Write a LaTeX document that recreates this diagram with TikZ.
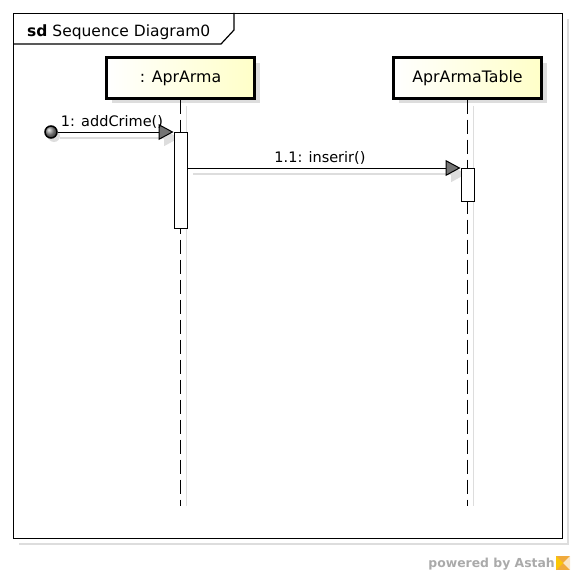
\documentclass[tikz,border=0pt]{standalone}
\usepackage{fontspec}
\setmainfont{DejaVu Sans}
\usetikzlibrary{arrows.meta,shadows}
\definecolor{boxyellow}{RGB}{255,255,200}
\definecolor{shadowgray}{RGB}{221,221,221}
\definecolor{markgray}{RGB}{170,170,170}
\definecolor{logoorange}{RGB}{240,170,60}
\begin{document}
\begin{tikzpicture}[x=1pt,y=-1pt,
  lbl/.style={font=\fontsize{14.5}{17}\selectfont, inner sep=0pt},
  lifebox/.style={draw=black, line width=3pt, left color=white, right color=boxyellow,
    minimum width=148pt, minimum height=40pt, inner sep=0pt,
    font=\fontsize{15.8}{18}\selectfont,
    drop shadow={shadow xshift=5pt, shadow yshift=-5pt, fill=shadowgray, opacity=1}},
  act/.style={draw=black, line width=1pt, fill=white, minimum width=13pt, inner sep=0pt},
  msg/.style={line width=1pt, -{Triangle[length=15pt,width=16pt,fill=black!55]}},
  msgshadow/.style={shadowgray, line width=1.5pt, -{Triangle[length=15pt,width=16pt,fill=shadowgray]}},
  shadowline/.style={shadowgray, line width=1.5pt},
  lifeline/.style={dash pattern=on 14pt off 6pt, line width=1pt}]
\useasboundingbox (0,0) rectangle (574,578);
% frame with shadow
\draw[shadowgray, line width=2pt] (19,544) -- (568,544) -- (568,19);
\node[draw, line width=1.2pt, minimum width=549pt, minimum height=525pt, anchor=north west, inner sep=0pt] (frame) at (13,13) {};
\draw[line width=1.2pt] (234,13) -- (234,30) -- (221,44) -- (13,44);
\node[font=\fontsize{15.5}{18}\selectfont, inner sep=0pt, anchor=base west] (title) at (27,36.5) {\textbf{sd} Sequence Diagram0};
% lifeline heads
\node[lifebox] (a) at (180.5,78) {: AprArma};
\node[lifebox] (b) at (467.5,78) {AprArmaTable};
% lifeline ends
\coordinate (aend) at (180.5,506);
\coordinate (bend) at (467.5,506);
% lifeline shadows
\draw[shadowline] ([xshift=6pt, yshift=-6pt]a.south) -- ([xshift=6pt]aend);
\draw[shadowline] ([xshift=6pt, yshift=-6pt]b.south) -- ([xshift=6pt]bend);
% lifelines
\draw[lifeline] (a.south) -- (aend);
\draw[lifeline] (b.south) -- (bend);
% start point
\node[circle, draw=black, line width=1.5pt, shading=ball, ball color=black!45, minimum size=12pt, inner sep=0pt,
  drop shadow={shadow xshift=3pt, shadow yshift=-4pt, fill=shadowgray, opacity=1}] (start) at (51,132) {};
% message shadows
\draw[msgshadow] ([xshift=2pt, yshift=-6pt]start.east) -- (179,138);
\draw[msgshadow] (193,174) -- (466,174);
% activations
\node[act, minimum height=96pt, anchor=north] (a1) at (180.5,132) {};
\node[act, minimum height=33pt, anchor=north] (b1) at (467.5,168) {};
% messages
\draw[msg] (start) -- (start -| a1.west);
\node[lbl, anchor=base] (m1) at (112,126.5) {1: addCrime()};
\draw[msg] (a1.east |- b1.north) -- (b1.north west);
\node[lbl, anchor=base] (m2) at (320,162.5) {1.1: inserir()};
% watermark
\node[font=\bfseries\fontsize{12.4}{14}\selectfont, text=markgray, anchor=base east, inner sep=0pt] (pw) at (555,567) {powered by Astah};
\fill[logoorange] (556,556) rectangle (570,570);
\fill[yellow!60!orange] (556,556) -- (563,563) -- (556,570) -- cycle;
\fill[white!70!logoorange] (563,563) -- (570,556) -- (570,570) -- cycle;
\end{tikzpicture}
\end{document}
